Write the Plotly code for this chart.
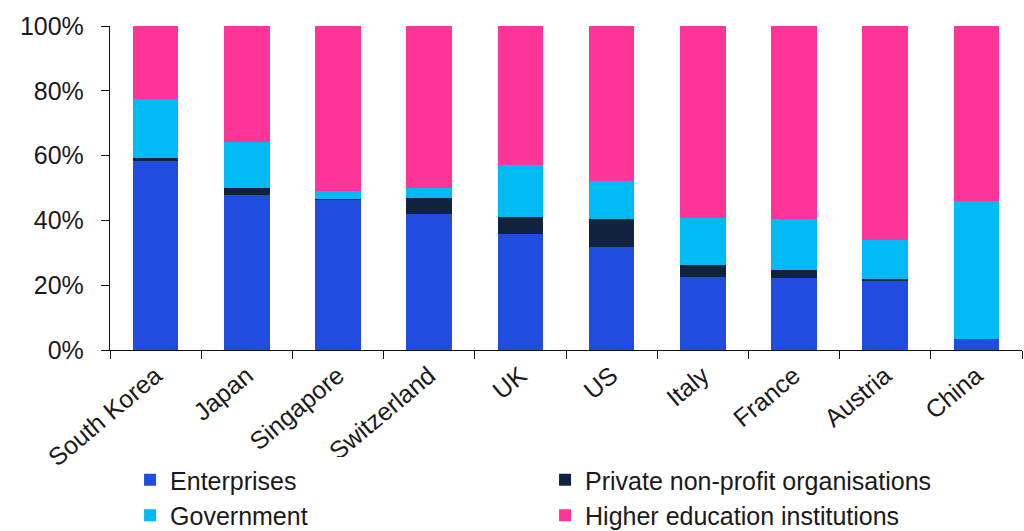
import plotly.graph_objects as go

# R&D expenditure by sector of performance, share of total (%)
countries = ["South Korea", "Japan", "Singapore", "Switzerland", "UK",
             "US", "Italy", "France", "Austria", "China"]
enterprises = [58.2, 47.9, 46.4, 42.1, 35.7, 31.7, 22.4, 22.2, 21.5, 3.5]
private_nonprofit = [1.1, 2.2, 0.1, 4.7, 5.2, 8.7, 3.7, 2.6, 0.3, 0.0]
government = [18.1, 14.1, 2.5, 3.3, 16.3, 11.7, 14.7, 15.5, 12.3, 42.4]
higher_education = [22.6, 35.8, 51.0, 49.9, 42.8, 47.9, 59.2, 59.7, 65.9, 54.1]

y_ticks = [0, 20, 40, 60, 80, 100]
y_tick_labels = ["0%", "20%", "40%", "60%", "80%", "100%"]

FONT = "Liberation Sans"
TEXT = "#1a1a1a"

series = [
    ("Enterprises", enterprises, "#214CE0"),
    ("Private non-profit organisations", private_nonprofit, "#0F233F"),
    ("Government", government, "#00BAF4"),
    ("Higher education institutions", higher_education, "#FD3599"),
]

fig = go.Figure()
for name, vals, color in series:
    fig.add_trace(go.Bar(
        x=countries, y=vals, name=name,
        marker=dict(color=color, line=dict(width=0)),
    ))

fig.update_layout(
    barmode="stack",
    bargap=0.5,
    width=1024, height=531,
    margin=dict(l=110, r=2, t=26, b=181, autoexpand=False),
    paper_bgcolor="white", plot_bgcolor="white",
    font=dict(family=FONT, size=24, color=TEXT),
    legend=dict(
        orientation="h",
        xref="container", yref="container",
        x=0.127, y=1 - 457 / 531,
        xanchor="left", yanchor="top",
        entrywidth=370, entrywidthmode="pixels",
        font=dict(family=FONT, size=25, color=TEXT),
        traceorder="normal",
        itemwidth=30,
    ),
    xaxis=dict(
        type="category",
        showgrid=False,
        showline=True, linecolor="#111", linewidth=1.3,
        ticks="outside", tickson="boundaries", ticklen=8,
        tickcolor="#111", tickwidth=1.3,
        tickangle=-40,
        tickfont=dict(family=FONT, size=25, color=TEXT),
    ),
    yaxis=dict(
        range=[0, 100],
        tickmode="array",
        tickvals=y_ticks,
        ticktext=y_tick_labels,
        showgrid=False, zeroline=False,
        showline=True, linecolor="#111", linewidth=1.3,
        ticks="outside", ticklen=8, tickcolor="#111", tickwidth=1.3,
        ticklabelstandoff=12,
        tickfont=dict(family=FONT, size=25, color=TEXT),
    ),
)

fig.write_html("out.html")
